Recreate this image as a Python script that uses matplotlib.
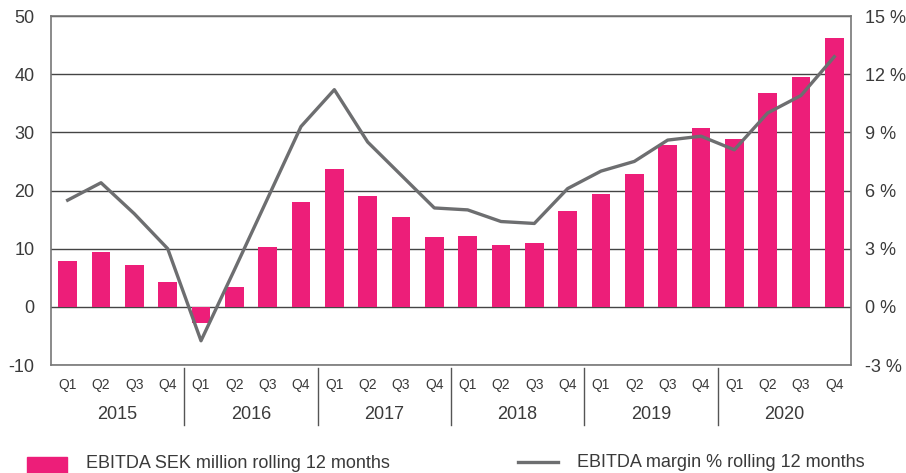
import matplotlib
matplotlib.use("Agg")
import matplotlib.pyplot as plt
from matplotlib.patches import Rectangle
from matplotlib.lines import Line2D

plt.rcParams['font.family'] = ['Liberation Sans', 'DejaVu Sans']
plt.rcParams['axes.unicode_minus'] = False

quarters = ['Q1', 'Q2', 'Q3', 'Q4'] * 6
years = ['2015', '2016', '2017', '2018', '2019', '2020']
ebitda = [7.9, 9.4, 7.2, 4.2, -2.7, 3.4, 10.3, 18.0, 23.7, 19.0, 15.4, 12.0,
          12.2, 10.6, 10.9, 16.5, 19.4, 22.8, 27.8, 30.7, 28.8, 36.7, 39.5, 46.2]
margin = [5.5, 6.4, 4.8, 3.0, -1.75, 1.9, 5.6, 9.3, 11.2, 8.5, 6.8, 5.1,
          5.0, 4.4, 4.3, 6.1, 7.0, 7.5, 8.6, 8.8, 8.1, 10.0, 10.9, 12.9]

pink = '#ED1E79'
grey = '#6D6E70'
txt = '#3a3a3a'

fig = plt.figure(figsize=(9.06, 4.73), dpi=100)
ax = fig.add_axes([51/906, 1-365/473, 800/906, 349/473])
x = list(range(len(ebitda)))

ax.bar(x, ebitda, width=0.56, color=pink, zorder=3)
ax.set_xlim(-0.5, 23.5)
ax.set_ylim(-10, 50)
ax.set_yticks(range(-10, 51, 10))
ax.grid(axis='y', color='#444444', linewidth=1, zorder=0)
ax.tick_params(axis='y', length=0, labelsize=13, labelcolor=txt, pad=12)
ax.set_xticks(x)
ax.set_xticklabels(quarters)
ax.tick_params(axis='x', length=0, labelsize=10, labelcolor=txt, pad=9)
for s in ax.spines.values():
    s.set_color('#777777')
    s.set_linewidth(1.2)

ax2 = ax.twinx()
ax2.plot(x, margin, color=grey, linewidth=2.4, zorder=4)
ax2.set_ylim(-3, 15)
ax2.set_yticks(range(-3, 16, 3))
ax2.set_yticklabels([f'{v} %' for v in range(-3, 16, 3)])
ax2.tick_params(axis='y', length=0, labelsize=13, labelcolor=txt, pad=10)
for s in ax2.spines.values():
    s.set_visible(False)

tr = ax.get_xaxis_transform()
for i, yr in enumerate(years):
    ax.text(i*4 + 1.5, -0.143, yr, transform=tr, ha='center', va='center',
            fontsize=13, color=txt)
    if i > 0:
        ax.add_line(Line2D([i*4 - 0.5]*2, [-0.009, -0.172], transform=tr,
                           color='#555555', linewidth=1, clip_on=False))

fig.patches.append(Rectangle((27/906, 0), 40/906, 16/473, transform=fig.transFigure,
                             color=pink))
fig.text(86/906, 1-463/473, 'EBITDA SEK million rolling 12 months', fontsize=13,
         color=txt, va='center')
fig.add_artist(Line2D([518/906, 558/906], [1-462/473]*2, transform=fig.transFigure,
                      color=grey, linewidth=2.4))
fig.text(577/906, 1-462/473, 'EBITDA margin % rolling 12 months', fontsize=13,
         color=txt, va='center')

fig.savefig('out.png', dpi=100)
